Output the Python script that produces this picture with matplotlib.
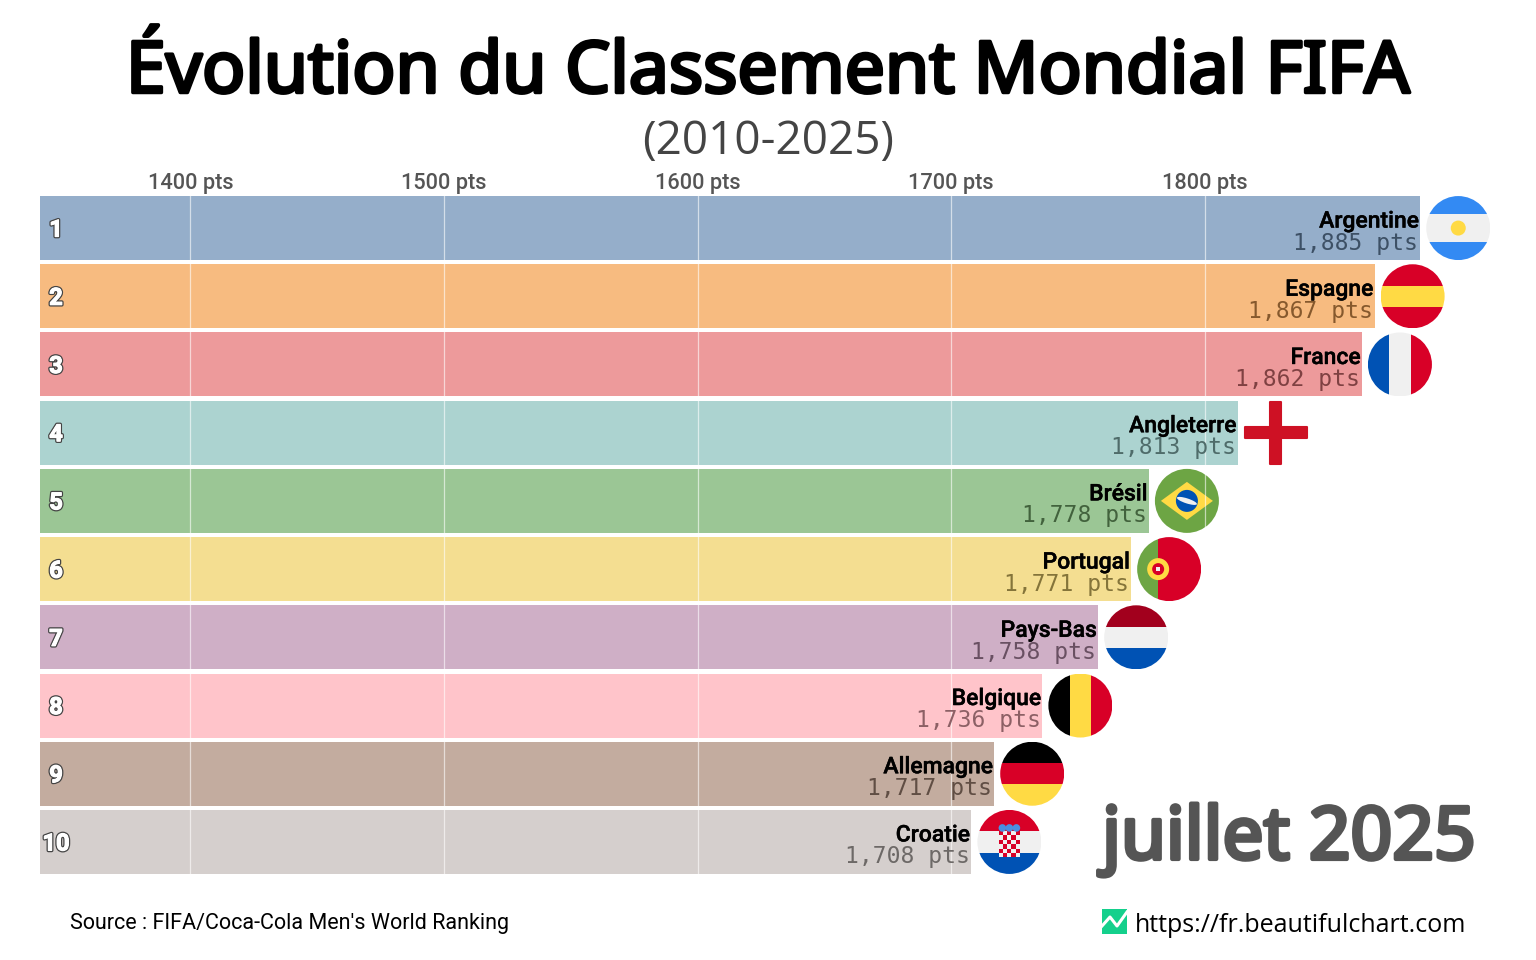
import numpy as np
import matplotlib
matplotlib.use("Agg")
import matplotlib.pyplot as plt
import matplotlib.patheffects as pe
from matplotlib.patches import Circle, Rectangle, Polygon, Ellipse

countries = ["Argentine", "Espagne", "France", "Angleterre", "Brésil",
             "Portugal", "Pays-Bas", "Belgique", "Allemagne", "Croatie"]
points = [1885, 1867, 1862, 1813, 1778, 1771, 1758, 1736, 1717, 1708]
ranks = list(range(1, 11))
tick_values = [1400, 1500, 1600, 1700, 1800]
bar_colors = ["#4E79A7", "#F28E2B", "#E15759", "#76B7B2", "#59A14F",
              "#EDC948", "#B07AA1", "#FF9DA7", "#9C755F", "#BAB0AC"]
title = "Évolution du Classement Mondial FIFA"
subtitle = "(2010-2025)"
date_label = "juillet 2025"
source = "Source : FIFA/Coca-Cola Men's World Ranking"
url = "https://fr.beautifulchart.com"

RED = "#D80027"
BLUE = "#0052B4"
YEL = "#FFDA44"
WHT = "#F0F0F0"
GRN = "#6DA544"

W, H = 1536, 960
fig = plt.figure(figsize=(W / 100, H / 100), dpi=100)


def pixel_layer(z):
    a = fig.add_axes([0, 0, 1, 1], facecolor="none", zorder=z)
    a.set_xlim(0, W)
    a.set_ylim(H, 0)
    a.axis("off")
    return a


fl = pixel_layer(0)   # drapeaux, sous la grille
ov = pixel_layer(2)   # textes

# axe principal, place au pixel pres
ax = fig.add_axes([40 / W, (H - 874) / H, 1460 / W, 678 / H], facecolor="none", zorder=1)
scale = 2.536
ax.set_xlim(1400 - 150.3 / scale, 1400 + 1309.7 / scale)
ax.set_ylim(10.47, 0.53)
ax.barh(ranks, points, height=0.938, color=bar_colors, alpha=0.6, linewidth=0)
for s in ax.spines.values():
    s.set_visible(False)
ax.set_yticks([])
ax.xaxis.tick_top()
ax.set_xticks(tick_values)
ax.set_xticklabels([f"{t} pts" for t in tick_values], family="Roboto",
                   fontweight="medium", fontsize=15.7, color="#555555")
ax.tick_params(axis="x", length=0, pad=1.5)
ax.set_axisbelow(False)
ax.grid(axis="x", color="white", linewidth=0.9, alpha=0.6)


def flag_stripes(cx, cy, colors, clip, horizontal=True, sizes=None):
    r = 32
    sizes = sizes or [1] * len(colors)
    total = sum(sizes)
    pos = -r
    for c, s in zip(colors, sizes):
        d = 2 * r * s / total
        if horizontal:
            p = Rectangle((cx - r, cy + pos), 2 * r, d, color=c, lw=0)
        else:
            p = Rectangle((cx + pos, cy - r), d, 2 * r, color=c, lw=0)
        fl.add_patch(p)
        p.set_clip_path(clip)
        pos += d


def draw_flag(name, cx, cy):
    r = 32
    clip = Circle((cx, cy), r, transform=fl.transData)

    if name == "Argentine":
        flag_stripes(cx, cy, ["#338AF3", WHT, "#338AF3"], clip, sizes=[1, 1.55, 1])
        fl.add_patch(Circle((cx, cy), 7.5, color=YEL, lw=0))
    elif name == "Espagne":
        flag_stripes(cx, cy, [RED, YEL, RED], clip)
    elif name == "France":
        flag_stripes(cx, cy, [BLUE, WHT, RED], clip, horizontal=False)
    elif name == "Angleterre":
        for box in [(cx - 31, cy - 5.5, 62, 11), (cx - 5.5, cy - 31, 11, 62)]:
            fl.add_patch(Rectangle(box[:2], box[2], box[3], facecolor="#CE1124",
                                   edgecolor="#CE1124", lw=1.5, joinstyle="round"))
    elif name == "Brésil":
        p = Circle((cx, cy), r, color=GRN, lw=0)
        fl.add_patch(p)
        fl.add_patch(Polygon([(cx - 26, cy), (cx, cy - 19), (cx + 26, cy), (cx, cy + 19)],
                             color=YEL, lw=0))
        fl.add_patch(Circle((cx, cy), 11, color=BLUE, lw=0))
        fl.add_patch(Ellipse((cx, cy), 21, 5, angle=18, color=WHT, lw=0))
    elif name == "Portugal":
        flag_stripes(cx, cy, [GRN, RED], clip, horizontal=False, sizes=[1, 2])
        fl.add_patch(Circle((cx - 11, cy), 11, color=YEL, lw=0))
        fl.add_patch(Circle((cx - 11, cy), 6, color=RED, lw=0))
        fl.add_patch(Rectangle((cx - 13, cy - 2), 4, 4, color=WHT, lw=0))
    elif name == "Pays-Bas":
        flag_stripes(cx, cy, ["#A2001D", WHT, BLUE], clip)
    elif name == "Belgique":
        flag_stripes(cx, cy, ["#000000", YEL, RED], clip, horizontal=False)
    elif name == "Allemagne":
        flag_stripes(cx, cy, ["#000000", RED, YEL], clip)
    elif name == "Croatie":
        flag_stripes(cx, cy, [RED, WHT, BLUE], clip)
        for i in range(5):
            for j in range(6):
                c = RED if (i + j) % 2 == 0 else WHT
                fl.add_patch(Rectangle((cx - 10.5 + 4.2 * i, cy - 11 + 4.4 * j), 4.2, 4.4,
                                       color=c, lw=0))
        for k in (-7, 0, 7):
            fl.add_patch(Circle((cx + k, cy - 14), 3.8, color="#4A90E2", lw=0))


for rank, name, val, col in zip(ranks, countries, points, bar_colors):
    x_px, y_px = ax.transData.transform((val, rank))
    y_px = H - y_px
    ov.text(x_px - 1.5, y_px - 7, name, ha="right", va="center", family="Roboto",
            fontweight="medium", fontsize=16.5, color="black",
            path_effects=[pe.withStroke(linewidth=0.3, foreground="black")])
    dark = tuple(c * 0.45 + 0.1 for c in matplotlib.colors.to_rgb(col))
    ov.text(x_px - 2, y_px + 15, f"{val:,} pts", ha="right", va="center",
            family="DejaVu Sans Mono", fontsize=16.6, color=dark)
    ov.text(56, y_px + 2, str(rank), ha="center", va="center", family="Roboto",
            fontweight="bold", fontsize=17, color="white",
            path_effects=[pe.withStroke(linewidth=2.6, foreground="#444444"),
                          pe.withStroke(linewidth=0.8, foreground="white")])
    draw_flag(name, x_px + 38, y_px)

ov.text(768, 74, title, ha="center", va="center", family="Noto Sans",
        fontsize=51.5, color="black",
        path_effects=[pe.withStroke(linewidth=2.5, foreground="black", joinstyle="round")])
ov.text(768, 142, subtitle, ha="center", va="center", family="Open Sans",
        fontsize=33, color="#444444")
ov.text(1289, 840, date_label, ha="center", va="center", family="Noto Sans",
        fontsize=52.5, color="#555555",
        path_effects=[pe.withStroke(linewidth=3, foreground="#555555", joinstyle="round")])
ov.text(70, 923, source, ha="left", va="center", family="Roboto",
        fontsize=15.5, color="black")
ov.text(1135, 925, url, ha="left", va="center", family="Open Sans",
        fontsize=18, color="black")

# petit logo du site
ov.add_patch(Rectangle((1102, 909), 25, 25, color="#14D08C", lw=0))
ov.plot([1102, 1110, 1117, 1127], [926, 917, 926, 912], color="white", lw=2.2)

fig.savefig("out.png", dpi=100)
